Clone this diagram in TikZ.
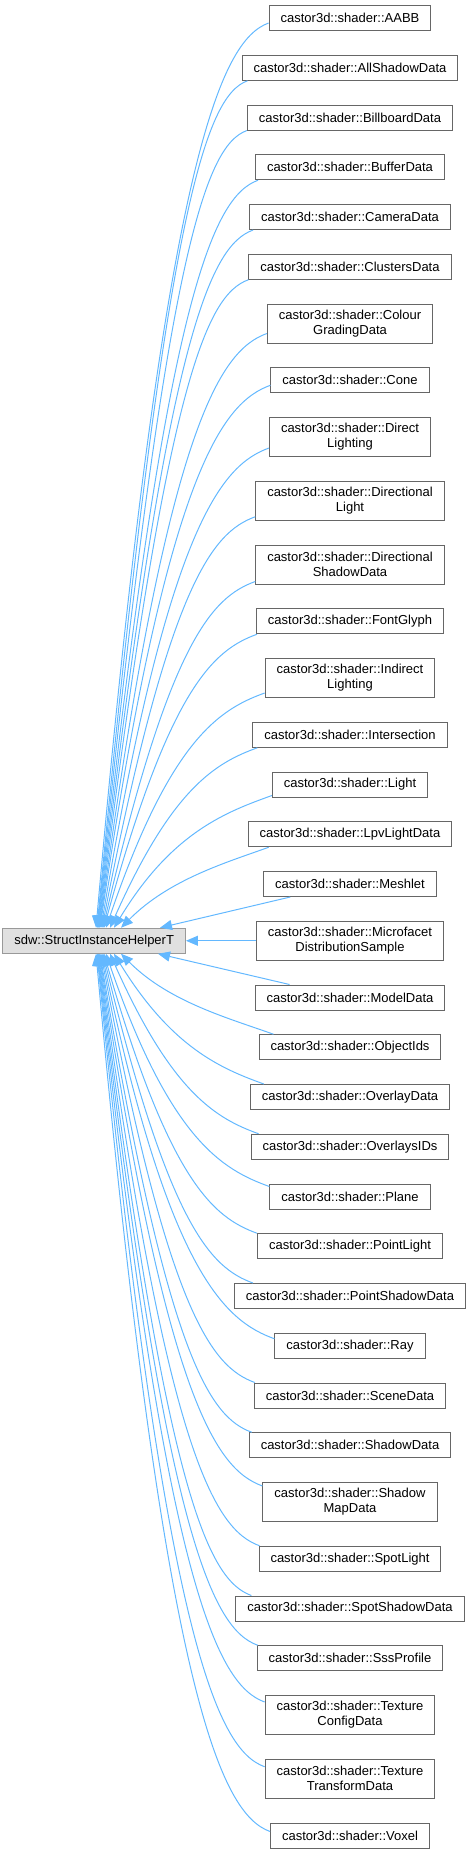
\documentclass[tikz,border=0pt]{standalone}
\usepackage{fontspec}
\setmainfont{Liberation Sans}
\usetikzlibrary{positioning, arrows.meta, calc}
\definecolor{edgeblue}{HTML}{63B8FF}
\definecolor{boxdraw}{HTML}{666666}
\definecolor{basedraw}{HTML}{999999}
\definecolor{basefill}{HTML}{E0E0E0}

\begin{document}
\begin{tikzpicture}[x=1pt, y=-1pt, node distance=23.75pt and 70pt,
    every node/.style={font=\fontsize{13}{15}\selectfont},
    cls/.style={rectangle, draw=boxdraw, fill=white, line width=1pt, inner xsep=11.5pt, inner ysep=2pt, minimum height=25pt, align=center},
    cls2/.style={cls, minimum height=39pt},
    basecls/.style={cls, draw=basedraw, fill=basefill},
    inh/.style={draw=edgeblue, line width=1pt, -{Triangle[length=12pt, width=10pt]}}]

  \useasboundingbox (0,0) rectangle (471,1853);

  % derived classes, top to bottom
  \node[cls] (aabb) at (350,18) {castor3d::shader::AABB};
  \node[cls, below=of aabb] (allshadow) {castor3d::shader::AllShadowData};
  \node[cls, below=of allshadow] (billboard) {castor3d::shader::BillboardData};
  \node[cls, below=of billboard] (buffer) {castor3d::shader::BufferData};
  \node[cls, below=of buffer] (camera) {castor3d::shader::CameraData};
  \node[cls, below=of camera] (clusters) {castor3d::shader::ClustersData};
  \node[cls2, below=of clusters] (colour) {castor3d::shader::Colour\\GradingData};
  \node[cls, below=of colour] (cone) {castor3d::shader::Cone};
  \node[cls2, below=of cone] (directlight) {castor3d::shader::Direct\\Lighting};
  \node[cls2, below=of directlight] (dirlight) {castor3d::shader::Directional\\Light};
  \node[cls2, below=of dirlight] (dirshadow) {castor3d::shader::Directional\\ShadowData};
  \node[cls, below=of dirshadow] (fontglyph) {castor3d::shader::FontGlyph};
  \node[cls2, below=of fontglyph] (indirect) {castor3d::shader::Indirect\\Lighting};
  \node[cls, below=of indirect] (intersect) {castor3d::shader::Intersection};
  \node[cls, below=of intersect] (light) {castor3d::shader::Light};
  \node[cls, below=of light] (lpvlight) {castor3d::shader::LpvLightData};
  \node[cls, below=of lpvlight] (meshlet) {castor3d::shader::Meshlet};
  \node[cls2, below=of meshlet] (micro) {castor3d::shader::Microfacet\\DistributionSample};
  \node[cls, below=of micro] (model) {castor3d::shader::ModelData};
  \node[cls, below=of model] (objectids) {castor3d::shader::ObjectIds};
  \node[cls, below=of objectids] (overlay) {castor3d::shader::OverlayData};
  \node[cls, below=of overlay] (overlaysids) {castor3d::shader::OverlaysIDs};
  \node[cls, below=of overlaysids] (plane) {castor3d::shader::Plane};
  \node[cls, below=of plane] (pointlight) {castor3d::shader::PointLight};
  \node[cls, below=of pointlight] (pointshadow) {castor3d::shader::PointShadowData};
  \node[cls, below=of pointshadow] (ray) {castor3d::shader::Ray};
  \node[cls, below=of ray] (scene) {castor3d::shader::SceneData};
  \node[cls, below=of scene] (shadow) {castor3d::shader::ShadowData};
  \node[cls2, below=of shadow] (shadowmap) {castor3d::shader::Shadow\\MapData};
  \node[cls, below=of shadowmap] (spotlight) {castor3d::shader::SpotLight};
  \node[cls, below=of spotlight] (spotshadow) {castor3d::shader::SpotShadowData};
  \node[cls, below=of spotshadow] (sss) {castor3d::shader::SssProfile};
  \node[cls2, below=of sss] (texconfig) {castor3d::shader::Texture\\ConfigData};
  \node[cls2, below=of texconfig] (textransform) {castor3d::shader::Texture\\TransformData};
  \node[cls, below=of textransform] (voxel) {castor3d::shader::Voxel};

  % base class
  \node[basecls, left=of micro] (base) {sdw::StructInstanceHelperT};

  % edges into the top of the base
  \foreach \c/\sx/\sy/\tx in {aabb/0/8/96, allshadow/6/0/97, billboard/0/0/97.5, buffer/3/0/98,
      camera/4/0/98.5, clusters/0/0/99, colour/0/10/99.5, cone/0/8/100, directlight/0/9/101,
      dirlight/0/4/102, dirshadow/0/3/103, fontglyph/1/0/104, indirect/0/5/106,
      intersect/5/0/110, light/0/2/114, lpvlight/21/0/121}
    \draw[inh] let \p1=([xshift=\sx pt, yshift=\sy pt]\c.south west), \p2=(\tx,0 |- base.north),
        \n1={atan2(\y1-\y2, 80)}, \n2={0.85*(\y1-\y2)}, \n3={0.3*(\x1-\x2)} in
      (\p1) .. controls ({\x1-0.94*\n3}, {\y1-0.34*\n3}) and ({\x2+\n2*cos(\n1)}, {\y2+\n2*sin(\n1)}) .. (\p2);

  % edges into the bottom of the base
  \foreach \c/\sx/\sy/\tx in {objectids/15/0/121, overlay/14/0/114, overlaysids/8/0/110,
      plane/0/3/106, pointlight/0/0/104, pointshadow/19/0/103, ray/0/6/102, scene/1/0/101,
      shadow/3/0/100, shadowmap/0/4/99.5, spotlight/1/0/99, spotshadow/16/0/98.5,
      sss/1/0/98, texconfig/0/7/97.5, textransform/0/8/97, voxel/0/9/96}
    \draw[inh] let \p1=([xshift=\sx pt, yshift=-\sy pt]\c.north west), \p2=(\tx,0 |- base.south),
        \n1={atan2(\y2-\y1, 80)}, \n2={0.85*(\y2-\y1)}, \n3={0.3*(\x1-\x2)} in
      (\p1) .. controls ({\x1-0.94*\n3}, {\y1+0.34*\n3}) and ({\x2+\n2*cos(\n1)}, {\y2-\n2*sin(\n1)}) .. (\p2);

  \draw[inh] ([xshift=27pt]meshlet.south west) -- (160,0 |- base.north);
  \draw[inh] (micro) -- (base);
  \draw[inh] ([xshift=35pt]model.north west) -- (158,0 |- base.south);
\end{tikzpicture}
\end{document}
